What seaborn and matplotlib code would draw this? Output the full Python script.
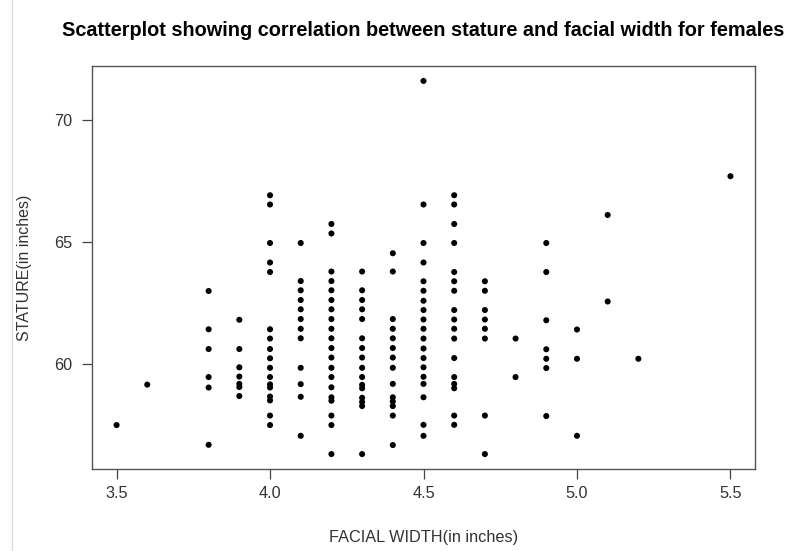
import numpy as np
import pandas as pd
import matplotlib
matplotlib.use("Agg")
import matplotlib.pyplot as plt
from matplotlib.lines import Line2D
import seaborn as sns

# ---- data (stature in inches, grouped by facial width in inches) ----
width_levels = [3.5, 3.6, 3.8, 3.9, 4.0, 4.1, 4.2, 4.3, 4.4, 4.5, 4.6, 4.7, 4.8, 4.9, 5.0, 5.1, 5.2, 5.5]

stature_w35 = [57.49]
stature_w36 = [59.15]
stature_w38 = [62.99, 61.42, 60.61, 59.46, 59.03, 56.68]
stature_w39 = [61.81, 60.61, 59.86, 59.48, 59.18, 59.05, 58.68]
stature_w40 = [66.92, 66.54, 64.96, 64.16, 63.77, 61.42, 61.04, 60.61, 60.23, 59.84,
               59.46, 59.16, 59.03, 58.66, 58.50, 57.88, 57.49]
stature_w41 = [64.96, 63.40, 63.02, 62.62, 62.24, 61.84, 61.44, 61.05, 59.84, 59.17,
               58.65, 57.05]
stature_w42 = [65.74, 65.35, 63.79, 63.40, 63.02, 62.62, 62.24, 61.84, 61.44, 61.05,
               60.65, 60.26, 59.84, 59.46, 59.04, 58.63, 58.49, 57.88, 57.49, 56.30]
stature_w43 = [63.79, 63.02, 62.62, 62.24, 61.84, 61.05, 60.65, 60.26, 59.84, 59.46,
               59.14, 59.00, 58.61, 58.44, 58.27, 56.30]
stature_w44 = [64.54, 63.79, 61.84, 61.44, 61.05, 60.65, 60.26, 59.84, 59.18, 58.63,
               58.46, 58.27, 57.88, 56.67]
stature_w45 = [71.61, 66.54, 64.96, 64.16, 63.39, 63.00, 62.59, 62.21, 61.82, 61.44,
               61.04, 60.63, 60.24, 59.86, 59.47, 59.18, 58.63, 57.50, 57.05]
stature_w46 = [66.92, 66.54, 65.74, 64.96, 63.77, 63.39, 63.00, 62.21, 61.82, 61.44,
               61.04, 60.24, 59.46, 59.18, 59.00, 57.88, 57.50]
stature_w47 = [63.39, 63.00, 62.21, 61.82, 61.44, 61.04, 57.88, 56.30]
stature_w48 = [61.04, 59.46]
stature_w49 = [64.96, 63.77, 61.79, 60.60, 60.21, 59.83, 57.86]
stature_w50 = [61.41, 60.21, 57.05]
stature_w51 = [66.11, 62.56]
stature_w52 = [60.21]
stature_w55 = [67.70]

stature_groups = [stature_w35, stature_w36, stature_w38, stature_w39, stature_w40,
                  stature_w41, stature_w42, stature_w43, stature_w44, stature_w45,
                  stature_w46, stature_w47, stature_w48, stature_w49, stature_w50,
                  stature_w51, stature_w52, stature_w55]

x_ticks = [3.5, 4.0, 4.5, 5.0, 5.5]
x_tick_labels = ["3.5", "4.0", "4.5", "5.0", "5.5"]
y_ticks = [60, 65, 70]
y_tick_labels = ["60", "65", "70"]

title = "Scatterplot showing correlation between stature and facial width for females"
x_label = "FACIAL WIDTH(in inches)"
y_label = "STATURE(in inches)"

rows = []
for w, grp in zip(width_levels, stature_groups):
    for s in grp:
        rows.append((w, s))
df = pd.DataFrame(rows, columns=["facial_width", "stature"])

# ---- style ----
sns.set_theme(style="white")
plt.rcParams["font.family"] = ["Liberation Sans", "DejaVu Sans"]

W, H, DPI = 787, 551, 100
fig = plt.figure(figsize=(W / DPI, H / DPI), dpi=DPI)
left, right, top, bottom = 92, 755, 66, 469
ax = fig.add_axes([left / W, 1 - bottom / H, (right - left) / W, (bottom - top) / H])

sns.scatterplot(data=df, x="facial_width", y="stature", ax=ax, color="black",
                s=19, linewidth=0, edgecolor="none")

# R-style 4% axis extension
xmin, xmax = df.facial_width.min(), df.facial_width.max()
ymin, ymax = df.stature.min(), df.stature.max()
xr, yr = xmax - xmin, ymax - ymin
ax.set_xlim(xmin - 0.04 * xr, xmax + 0.04 * xr)
ax.set_ylim(ymin - 0.04 * yr, ymax + 0.04 * yr)

ax.set_xticks(x_ticks)
ax.set_xticklabels(x_tick_labels)
ax.set_yticks(y_ticks)
ax.set_yticklabels(y_tick_labels)

ax.tick_params(axis="both", direction="out", length=7.2, width=0.9, color="#444444",
               labelsize=11.7, labelcolor="#333333", bottom=True, left=True)
ax.tick_params(axis="x", pad=5)
ax.tick_params(axis="y", pad=7)

for sp in ax.spines.values():
    sp.set_visible(True)
    sp.set_color("#555555")
    sp.set_linewidth(1.0)

ax.set_xlabel(x_label, fontsize=11.7, color="#333333")
ax.set_ylabel(y_label, fontsize=11.5, color="#333333")
ax.xaxis.set_label_coords(0.5, -0.171)
ax.xaxis.label.set_va("center")
ax.yaxis.set_label_coords((25 - left) / (right - left), 0.5)
ax.yaxis.label.set_va("center")

fig.text((left + right) / 2 / W, 1 - 31 / H, title, ha="center", va="center",
         fontsize=14.3, fontweight="bold", color="black")

# thin light border line at left of the screenshot
fig.add_artist(Line2D([11.5 / W, 11.5 / W], [0, 1], color="#dcdcdc", lw=1.0))

fig.savefig("out.png", dpi=DPI, facecolor="white")
